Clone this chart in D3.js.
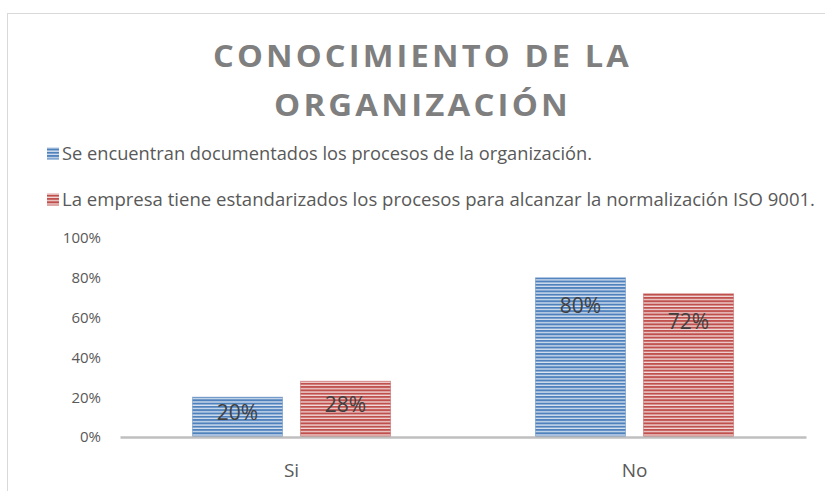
<!DOCTYPE html>
<html><head><meta charset="utf-8">
<script src="https://cdn.jsdelivr.net/npm/d3@7"></script>
<style>body{margin:0;background:#fff}svg{display:block}</style>
</head><body>
<script>
const categories = ["Si", "No"];
const seriesNames = ["Se encuentran documentados los procesos de la organización.",
  "La empresa tiene estandarizados los procesos para alcanzar la normalización ISO 9001."];
const seriesDocumentados = [0.20, 0.80];
const seriesEstandarizados = [0.28, 0.72];
const yTicks = [0, 0.2, 0.4, 0.6, 0.8, 1.0];
const titleLines = ["CONOCIMIENTO DE LA", "ORGANIZACIÓN"];

const W = 825, H = 491;
const svg = d3.select("body").append("svg").attr("width", W).attr("height", H);
const colors = [{dark:"#4f81bd", light:"#dbe5f1"}, {dark:"#c0504d", light:"#f2dcdb"}];
const defs = svg.append("defs");
colors.forEach((c, i) => {
  const p = defs.append("pattern").attr("id", "hatch" + i).attr("patternUnits", "userSpaceOnUse")
    .attr("width", 8).attr("height", 3.3);
  p.append("rect").attr("width", 8).attr("height", 3.3).attr("fill", c.light);
  p.append("rect").attr("width", 8).attr("height", 2).attr("fill", c.dark);
});

svg.append("rect").attr("x", 7.5).attr("y", 13.5).attr("width", 830).attr("height", 500)
  .attr("fill", "#fff").attr("stroke", "#d9d9d9");

const font = "'Open Sans', sans-serif";
// title
const titleY = [67, 116], titleLen = [419, 297];
titleLines.forEach((t, i) => {
  svg.append("text").attr("x", 422.5).attr("y", titleY[i]).attr("text-anchor", "middle")
    .attr("font-family", font).attr("font-weight", "bold").attr("font-size", 31)
    .attr("letter-spacing", 3).attr("textLength", titleLen[i]).attr("lengthAdjust", "spacingAndGlyphs")
    .attr("fill", "#7f7f7f").text(t);
});

// legend
const legY = [153.5, 199.5], legLen = [530, 753];
seriesNames.forEach((n, i) => {
  svg.append("rect").attr("x", 47).attr("y", legY[i] - 6).attr("width", 12).attr("height", 12)
    .attr("fill", "url(#hatch" + i + ")");
  svg.append("text").attr("x", 62).attr("y", legY[i]).attr("dy", "0.36em")
    .attr("font-family", font).attr("font-size", 18)
    .attr("textLength", legLen[i]).attr("lengthAdjust", "spacingAndGlyphs")
    .attr("fill", "#595959").text(n);
});

const x0 = d3.scaleBand().domain(categories).range([120, 806]).paddingInner(0).paddingOuter(0);
const x1 = d3.scaleBand().domain([0, 1]).range([0, x0.bandwidth()]).paddingInner(1 / 6).paddingOuter(0.671);
const y = d3.scaleLinear().domain([0, 1]).range([437, 238]);

const yAxis = svg.append("g").attr("transform", "translate(101,0)")
  .call(d3.axisLeft(y).tickValues(yTicks).tickFormat(d3.format(".0%")).tickSize(0).tickPadding(0));
yAxis.select(".domain").remove();
yAxis.selectAll("text").attr("font-family", font).attr("font-size", 15).attr("fill", "#595959");

const series = [seriesDocumentados, seriesEstandarizados];
categories.forEach((c, ci) => {
  series.forEach((s, si) => {
    const bx = x0(c) + x1(si), by = y(s[ci]), h = y(0) - by;
    svg.append("rect").attr("x", bx).attr("y", by).attr("width", x1.bandwidth())
      .attr("height", h).attr("fill", "url(#hatch" + si + ")")
      .attr("stroke", colors[si].dark).attr("stroke-opacity", 0.45);
    svg.append("text").attr("x", bx + x1.bandwidth() / 2).attr("y", by + Math.min(28, h / 2 - 5)).attr("dy", "0.36em")
      .attr("text-anchor", "middle").attr("font-family", font).attr("font-size", 21)
      .attr("fill", "#404040").text(d3.format(".0%")(s[ci]));
  });
});

const xAxis = svg.append("g").attr("transform", "translate(0,437)")
  .call(d3.axisBottom(x0).tickSize(0).tickPadding(0));
xAxis.select(".domain").attr("stroke", "#bfbfbf").attr("stroke-width", 2.5);
xAxis.selectAll("text").attr("font-family", font).attr("font-size", 19).attr("fill", "#595959")
  .attr("y", 33).attr("dy", "0.36em");
</script>
</body></html>
